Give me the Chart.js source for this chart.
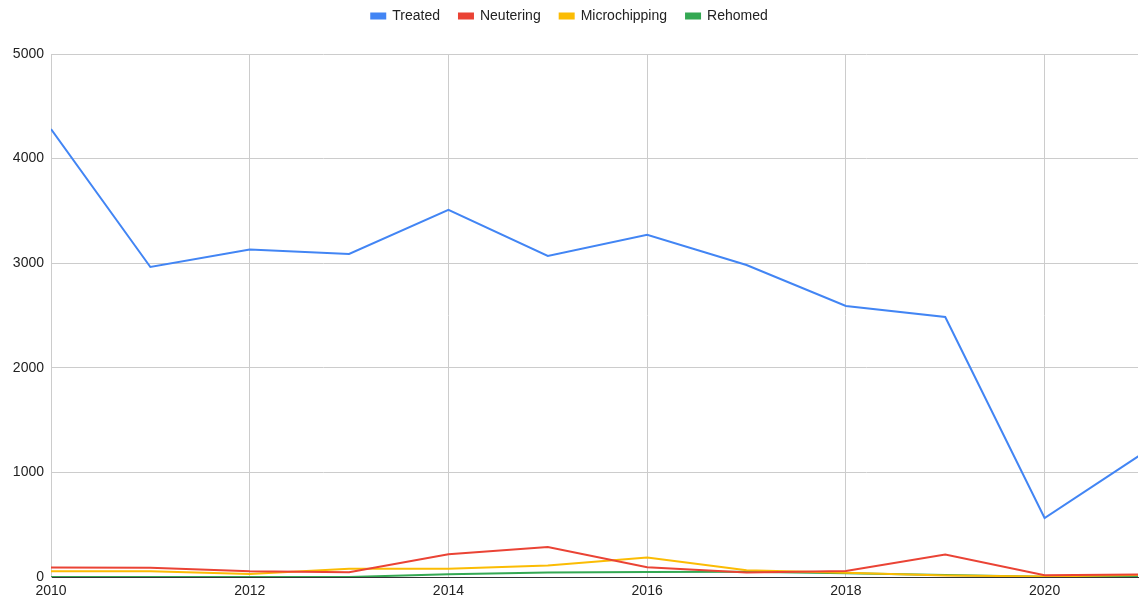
<!DOCTYPE html>
<html>
<head>
<meta charset="utf-8">
<script src="https://cdn.jsdelivr.net/npm/chart.js@4"></script>
<style>
  html, body { margin: 0; padding: 0; background: #fff; overflow: hidden; }
  #wrap { width: 1139px; height: 599px; }
</style>
</head>
<body>
<div id="wrap"><canvas id="myChart"></canvas></div>
<script>
var years = [2010, 2011, 2012, 2013, 2014, 2015, 2016, 2017, 2018, 2019, 2020, 2021];
var treated = [4283, 2964, 3130, 3088, 3509, 3069, 3272, 2983, 2591, 2486, 564, 1190];
var neutering = [90, 88, 55, 45, 217, 287, 93, 42, 57, 214, 16, 25];
var microchipping = [55, 55, 29, 80, 80, 109, 186, 64, 40, 15, 5, 20];
var rehomed = [0, 0, 0, 0, 26, 42, 48, 50, 35, 20, 3, 5];
var yTicks = [0, 1000, 2000, 3000, 4000, 5000];

function pts(vals) {
  return vals.map((v, i) => ({ x: years[i], y: v }));
}

function line(label, vals, color) {
  return {
    label: label,
    data: pts(vals),
    borderColor: color,
    backgroundColor: color,
    borderWidth: 2,
    pointRadius: 0,
    tension: 0
  };
}

Chart.defaults.font.family = '"Liberation Sans", Arial, sans-serif';
Chart.defaults.font.size = 14;
Chart.defaults.color = '#222';

var ctx = document.getElementById('myChart').getContext('2d');
var myChart = new Chart(ctx, {
  type: 'line',
  data: {
    datasets: [
      line('Treated', treated, '#4285F4'),
      line('Neutering', neutering, '#EA4335'),
      line('Microchipping', microchipping, '#FBBC04'),
      line('Rehomed', rehomed, '#34A853')
    ]
  },
  options: {
    responsive: true,
    maintainAspectRatio: false,
    animation: false,
    layout: { padding: { top: -10, left: 0, right: 0, bottom: 0 } },
    plugins: {
      legend: {
        position: 'top',
        labels: {
          boxWidth: 14,
          boxHeight: 5,
          padding: 19,
          color: '#222',
          font: { size: 14 }
        }
      },
      tooltip: { enabled: false }
    },
    scales: {
      x: {
        type: 'linear',
        min: 2010,
        max: 2020.94,
        afterBuildTicks: (scale) => {
          scale.ticks = years.filter(y => y % 2 === 0 && y <= 2020).map(y => ({ value: y }));
        },
        afterFit: (scale) => { scale.height = 22; },
        ticks: {
          maxRotation: 0,
          autoSkip: false,
          padding: 6,
          callback: (v) => String(v)
        },
        grid: { color: '#ccc', drawTicks: false },
        border: { color: '#333', width: 1 }
      },
      y: {
        min: 0,
        max: 5000,
        afterBuildTicks: (scale) => {
          scale.ticks = yTicks.map(v => ({ value: v }));
        },
        afterFit: (scale) => { scale.width = 51; },
        ticks: { padding: 7, callback: (v) => String(v) },
        grid: { color: '#ccc', drawTicks: false },
        border: { color: '#ccc' }
      }
    }
  }
});

// fixed legend band so the plot area starts at the same height as the original
var origFit = myChart.legend.fit;
myChart.legend.fit = function () {
  origFit.call(this);
  this.height = 64;
};
myChart.update();
</script>
</body>
</html>
